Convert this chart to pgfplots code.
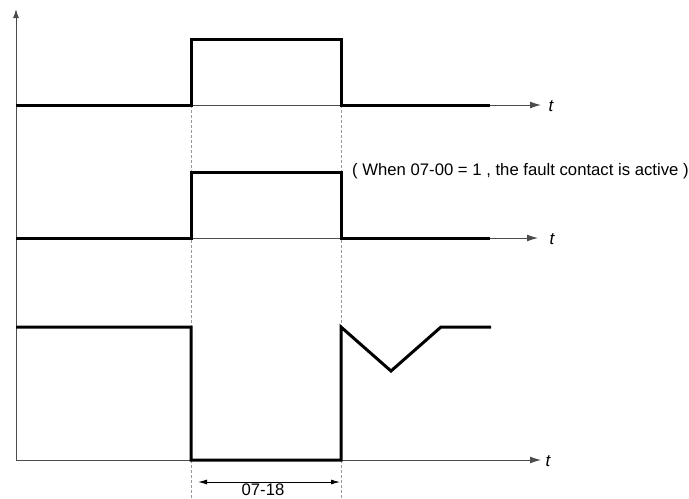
\documentclass[border=0pt]{standalone}
\usepackage{pgfplots}
\pgfplotsset{compat=1.18}
\usepackage{fontspec}
\setmainfont{Liberation Sans}
\usetikzlibrary{arrows.meta}
\begin{document}
\begin{tikzpicture}
\begin{axis}[
  width=689pt, height=498pt, scale only axis,
  xmin=0, xmax=689, ymin=0, ymax=498,
  axis lines=none, clip=false,
  y dir=reverse,
]
% bounding box
\addplot[draw=none] coordinates {(0,0) (689,498)};
% dashed guide lines
\addplot[gray!80, densely dashed, line width=0.8pt] coordinates {(191,105) (191,498)};
\addplot[gray!80, densely dashed, line width=0.8pt] coordinates {(341,105) (341,498)};
% vertical axis
\addplot[black!70, line width=1pt, -{Latex[length=9pt,width=6pt]}] coordinates {(16,460) (16,9)};
% time axes
\addplot[black!70, line width=1pt, -{Latex[length=11pt,width=7pt]}] coordinates {(16,105) (541,105)};
\addplot[black!70, line width=1pt, -{Latex[length=11pt,width=7pt]}] coordinates {(16,238) (538,238)};
\addplot[black!70, line width=1pt, -{Latex[length=11pt,width=7pt]}] coordinates {(16,460) (541,460)};
% signals
\addplot[black, line width=3pt, line join=miter] coordinates {(16,105) (191,105) (191,39) (341,39) (341,105) (490,105)};
\addplot[black, line width=3pt, line join=miter] coordinates {(16,238) (191,238) (191,172) (341,172) (341,238) (490,238)};
\addplot[black, line width=3pt, line join=miter] coordinates {(16,327) (191,327) (191,460) (341,460) (341,327) (391,371) (441,327) (491,327)};
% dimension arrow
\addplot[black, line width=1pt, {Latex[length=9pt,width=5pt]}-{Latex[length=9pt,width=5pt]}] coordinates {(198,482) (340,482)};
% texts
\node[anchor=west, font=\itshape\fontsize{17}{20}\selectfont] at (axis cs:545,106) {t};
\node[anchor=west, font=\itshape\fontsize{17}{20}\selectfont] at (axis cs:546,239) {t};
\node[anchor=west, font=\itshape\fontsize{17}{20}\selectfont] at (axis cs:542,461) {t};
\node[anchor=west, inner sep=0pt, font=\fontsize{16.7}{20}\selectfont] at (axis cs:352,171) {( When 07-00 = 1 , the fault contact is active )};
\node[anchor=center, inner sep=0pt, font=\fontsize{16.7}{20}\selectfont] at (axis cs:263,490) {07-18};
\end{axis}
\end{tikzpicture}
\end{document}
